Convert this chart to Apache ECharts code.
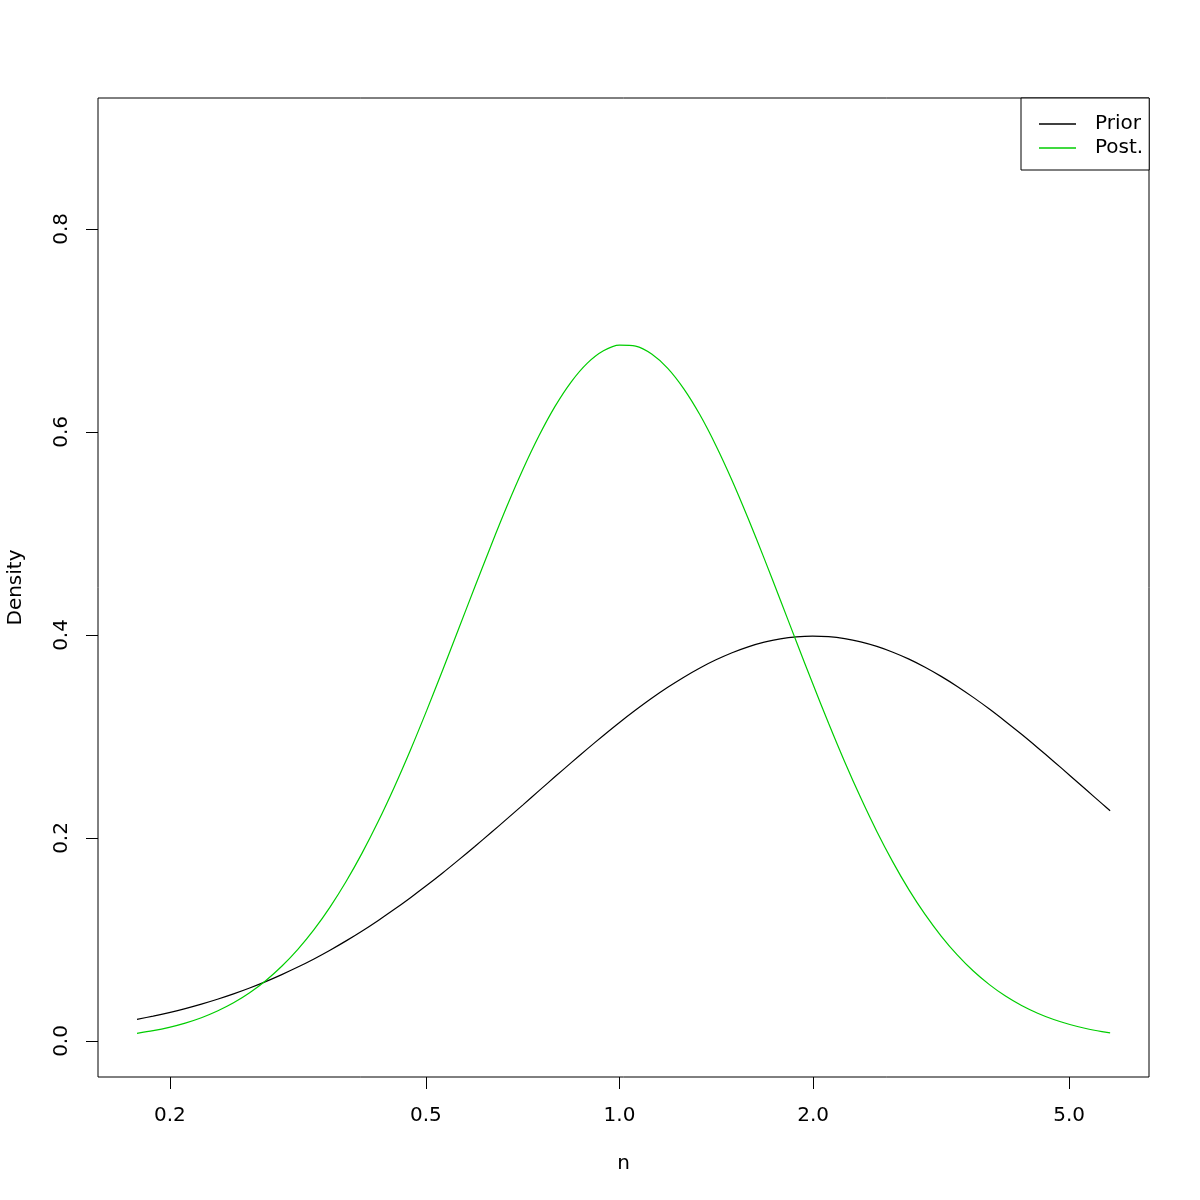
<!DOCTYPE html>
<html>
<head>
<meta charset="utf-8">
<script src="https://cdn.jsdelivr.net/npm/echarts@6/dist/echarts.min.js"></script>
<style>html,body{margin:0;padding:0;background:#fff}#c{width:1200px;height:1200px}</style>
</head>
<body>
<div id="c"></div>
<script>
// n values (log-scaled x axis)
const nValues = [0.1778, 0.1884, 0.1995, 0.2113, 0.2239, 0.2371, 0.2512, 0.2661, 0.2818, 0.2985,
  0.3162, 0.3350, 0.3548, 0.3758, 0.3981, 0.4217, 0.4467, 0.4732, 0.5012, 0.5309,
  0.5623, 0.5957, 0.6310, 0.6683, 0.7079, 0.7499, 0.7943, 0.8414, 0.8913, 0.9441,
  1.0000, 1.0593, 1.1220, 1.1885, 1.2589, 1.3335, 1.4125, 1.4962, 1.5849, 1.6788,
  1.7783, 1.8836, 1.9953, 2.1135, 2.2387, 2.3714, 2.5119, 2.6607, 2.8184, 2.9854,
  3.1623, 3.3497, 3.5481, 3.7584, 3.9811, 4.2170, 4.4668, 4.7315, 5.0119, 5.3088,
  5.6234, 5.7900];
const priorDensity = [0.0213, 0.0245, 0.0280, 0.0319, 0.0363, 0.0411, 0.0464, 0.0522, 0.0585, 0.0654,
  0.0728, 0.0808, 0.0894, 0.0986, 0.1084, 0.1188, 0.1297, 0.1412, 0.1531, 0.1655,
  0.1784, 0.1916, 0.2051, 0.2188, 0.2326, 0.2466, 0.2605, 0.2742, 0.2878, 0.3010,
  0.3138, 0.3260, 0.3376, 0.3484, 0.3584, 0.3675, 0.3755, 0.3825, 0.3883, 0.3929,
  0.3962, 0.3982, 0.3989, 0.3983, 0.3964, 0.3932, 0.3887, 0.3830, 0.3762, 0.3682,
  0.3592, 0.3493, 0.3385, 0.3270, 0.3148, 0.3021, 0.2889, 0.2754, 0.2616, 0.2477,
  0.2338, 0.2268];
const postDensity = [0.0075, 0.0101, 0.0134, 0.0176, 0.0229, 0.0295, 0.0376, 0.0475, 0.0594, 0.0736,
  0.0903, 0.1097, 0.1319, 0.1571, 0.1853, 0.2164, 0.2503, 0.2867, 0.3252, 0.3652,
  0.4061, 0.4472, 0.4877, 0.5267, 0.5632, 0.5964, 0.6254, 0.6494, 0.6678, 0.6800,
  0.6856, 0.6846, 0.6768, 0.6627, 0.6425, 0.6169, 0.5865, 0.5522, 0.5147, 0.4752,
  0.4344, 0.3933, 0.3526, 0.3130, 0.2751, 0.2395, 0.2064, 0.1762, 0.1489, 0.1247,
  0.1034, 0.0848, 0.0689, 0.0555, 0.0442, 0.0349, 0.0273, 0.0211, 0.0162, 0.0123,
  0.0092, 0.0080];
const xTickValues = [0.2, 0.5, 1.0, 2.0, 5.0];
const xTickLabels = ['0.2', '0.5', '1.0', '2.0', '5.0'];
const yTickValues = [0, 0.2, 0.4, 0.6, 0.8];
const yTickLabels = ['0.0', '0.2', '0.4', '0.6', '0.8'];
const seriesNames = ['Prior', 'Post.'];
const seriesColors = ['#000000', '#00CD00'];

const FONT = 'DejaVu Sans';
const lg = v => Math.log10(v);
const xTickPos = xTickValues.map(lg);
const labelMap = {};
xTickPos.forEach((p, i) => { labelMap[p.toFixed(6)] = xTickLabels[i]; });
const yLabelMap = {};
yTickValues.forEach((v, i) => { yLabelMap[v.toFixed(6)] = yTickLabels[i]; });

const chart = echarts.init(document.getElementById('c'), null, {renderer: 'canvas'});
chart.setOption({
  animation: false,
  backgroundColor: '#ffffff',
  grid: {left: 98, right: 51, top: 98, bottom: 123, show: true, borderColor: '#000', borderWidth: 1,
    backgroundColor: 'transparent', outerBoundsMode: 'none', containLabel: false},
  xAxis: {
    type: 'value', min: -0.8107, max: 0.8231,
    name: 'n', nameLocation: 'middle', nameGap: 77,
    nameTextStyle: {fontFamily: FONT, fontSize: 20, color: '#000'},
    axisLine: {show: false, onZero: false},
    splitLine: {show: false},
    axisTick: {show: true, customValues: xTickPos, length: 12, lineStyle: {color: '#000', width: 1}},
    axisLabel: {show: true, customValues: xTickPos, margin: 29, fontFamily: FONT, fontSize: 20, color: '#000',
      formatter: v => labelMap[v.toFixed(6)] || ''}
  },
  yAxis: {
    type: 'value', min: -0.0355, max: 0.929,
    name: 'Density', nameLocation: 'middle', nameGap: 72, nameRotate: 90,
    nameTextStyle: {fontFamily: FONT, fontSize: 20, color: '#000'},
    axisLine: {show: false, onZero: false},
    splitLine: {show: false},
    axisTick: {show: true, customValues: yTickValues, length: 12, lineStyle: {color: '#000', width: 1}},
    axisLabel: {show: true, customValues: yTickValues, rotate: 90, margin: 26, fontFamily: FONT, fontSize: 20, color: '#000',
      formatter: v => yLabelMap[v.toFixed(6)] || ''}
  },
  legend: {
    show: true, orient: 'vertical', left: 1021, top: 98,
    data: seriesNames,
    icon: 'rect',
    backgroundColor: '#fff', borderColor: '#000', borderWidth: 1,
    padding: [14, 6, 10, 18], itemGap: 0, itemWidth: 37, itemHeight: 1.5,
    textStyle: {fontFamily: FONT, fontSize: 20, color: '#000', lineHeight: 24, padding: [0, 0, 0, 14]}
  },
  series: [
    {name: seriesNames[0], type: 'line', smooth: 0.3, symbol: 'none', color: seriesColors[0],
     lineStyle: {color: seriesColors[0], width: 1.2},
     data: nValues.map((n, i) => [lg(n), priorDensity[i]])},
    {name: seriesNames[1], type: 'line', smooth: 0.3, symbol: 'none', color: seriesColors[1],
     lineStyle: {color: seriesColors[1], width: 1.2},
     data: nValues.map((n, i) => [lg(n), postDensity[i]])}
  ]
});
</script>
</body>
</html>
